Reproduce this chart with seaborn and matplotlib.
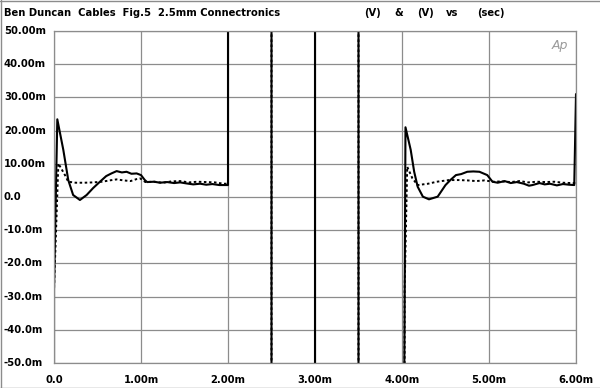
import matplotlib
matplotlib.use("Agg")
import matplotlib.pyplot as plt
import seaborn as sns
import pandas as pd
from matplotlib.lines import Line2D

# ---- data (time in ms, level in mV) ----
solid_t = [0.0, 0.0, 0.038, 0.107, 0.164, 0.22, 0.298, 0.375, 0.45, 0.528, 0.60, 0.66, 0.72,
           0.78, 0.834, 0.89, 0.95, 1.0, 1.044, 1.07, 1.15, 1.22, 1.30, 1.38, 1.45, 1.52,
           1.60, 1.68, 1.75, 1.82, 1.90, 1.98, 2.0, 2.0, 2.5, 2.5, 3.0, 3.0, 3.5, 3.5,
           4.0, 4.0, 4.04, 4.10, 4.14, 4.18, 4.24, 4.31, 4.41, 4.50, 4.56, 4.62, 4.68, 4.75,
           4.82, 4.89, 4.98, 5.04, 5.10, 5.18, 5.25, 5.32, 5.40, 5.46, 5.50, 5.58, 5.64,
           5.70, 5.78, 5.85, 5.92, 5.98, 6.0]
solid_v = [-200, -28, 23.4, 14.2, 5.1, 0.6, -0.9, 0.6, 2.7, 4.6, 6.3, 7.1, 7.8,
           7.4, 7.6, 7.0, 7.1, 6.6, 5.1, 4.5, 4.6, 4.3, 4.5, 4.2, 4.4, 4.1,
           3.8, 4.0, 3.7, 3.9, 3.6, 3.6, 3.6, 200, 200, -200, -200, 200, 200, -200,
           -200, -200, 21.0, 14.2, 7.6, 3.1, 0.1, -0.7, 0.1, 3.6, 5.2, 6.6, 6.9, 7.6,
           7.7, 7.6, 6.6, 4.6, 4.3, 4.8, 4.2, 4.5, 4.0, 3.4, 3.6, 4.2, 3.8,
           4.0, 3.5, 3.9, 3.7, 3.6, 31.0]

dot_t = [0.0, 0.0, 0.05, 0.126, 0.164, 0.25, 0.35, 0.45, 0.55, 0.64, 0.72, 0.80, 0.88,
         0.95, 0.99, 1.05, 1.15, 1.25, 1.35, 1.45, 1.55, 1.65, 1.75, 1.85, 1.95, 2.0,
         2.0, 2.5, 2.5, 3.0, 3.0, 3.5, 3.5, 4.0, 4.03, 4.03, 4.06, 4.12, 4.18, 4.30, 4.40,
         4.54, 4.65, 4.75, 4.85, 4.95, 5.05, 5.15, 5.25, 5.35, 5.45, 5.55, 5.65, 5.75,
         5.85, 5.95, 6.0]
dot_v = [-200, -28, 10.1, 6.6, 4.6, 4.3, 4.3, 4.4, 4.6, 5.0, 5.3, 5.0, 4.8,
         5.4, 5.6, 4.5, 4.6, 4.3, 4.7, 4.8, 4.4, 4.6, 4.5, 4.4, 4.0, 4.0,
         200, 200, -200, -200, 200, 200, -200, -200, -200, -28, 9.1, 5.6, 3.6, 4.0, 4.6,
         5.1, 5.1, 5.0, 4.8, 5.0, 4.6, 4.7, 4.5, 4.8, 4.4, 4.6, 4.5, 4.6,
         4.3, 4.2, 4.2]

x_ticks = [0, 1, 2, 3, 4, 5, 6]
x_labels = ["0.0", "1.00m", "2.00m", "3.00m", "4.00m", "5.00m", "6.00m"]
y_ticks = [50, 40, 30, 20, 10, 0, -10, -20, -30, -40, -50]
y_labels = ["50.00m", "40.00m", "30.00m", "20.00m", "10.00m", "0.0",
            "-10.0m", "-20.0m", "-30.0m", "-40.0m", "-50.0m"]
title_left = "Ben Duncan  Cables  Fig.5  2.5mm Connectronics"
title_parts = ["(V)", "&", "(V)", "vs", "(sec)"]
title_parts_x = [364, 394, 417, 446, 477]

sns.set_theme(style="white")
plt.rcParams["font.family"] = ["DejaVu Sans"]

fig = plt.figure(figsize=(6.0, 3.88), dpi=100)
ax = fig.add_axes([54 / 600, 25 / 388, 522 / 600, 332 / 388])

df_s = pd.DataFrame({"t": solid_t, "v": solid_v})
df_d = pd.DataFrame({"t": dot_t, "v": dot_v})

sns.lineplot(data=df_d, x="t", y="v", estimator=None, sort=False, ax=ax,
             color="black", linewidth=1.4, linestyle=(0, (1.3, 1.3)))
sns.lineplot(data=df_s, x="t", y="v", estimator=None, sort=False, ax=ax,
             color="black", linewidth=1.5)

ax.set_xlim(0, 6)
ax.set_ylim(-50, 50)
ax.set_xticks(x_ticks)
ax.set_yticks(y_ticks)
ax.set_xticklabels([])
ax.set_yticklabels([])
ax.set_xlabel("")
ax.set_ylabel("")
ax.tick_params(length=0)
ax.grid(True, color="#8c8c8c", linewidth=0.9)
ax.set_axisbelow(True)
for s in ax.spines.values():
    s.set_color("#8c8c8c")
    s.set_linewidth(0.9)

fs = 7.2
for yv, lab in zip(y_ticks, y_labels):
    yp = ax.transData.transform((0, yv))[1]
    fig.text(4 / 600, yp / fig.bbox.height, lab, ha="left", va="center",
             fontsize=fs, fontweight="bold", color="black")
for xv, lab in zip(x_ticks, x_labels):
    ax.text(xv, -0.035, lab, transform=ax.get_xaxis_transform(), ha="center",
            va="top", fontsize=fs, fontweight="bold", color="black", clip_on=False)

fig.text(4 / 600, 1 - 13 / 388, title_left, ha="left", va="center",
         fontsize=fs, fontweight="bold", color="black")
for px, part in zip(title_parts_x, title_parts):
    fig.text(px / 600, 1 - 13 / 388, part, ha="left", va="center",
             fontsize=fs, fontweight="bold", color="black")
ax.text(0.985, 0.975, "Ap", transform=ax.transAxes, ha="right", va="top",
        fontsize=9, style="italic", color="#9a9a9a", fontweight="light")

# outer frame
fr = dict(color="#8c8c8c", linewidth=1.0, transform=fig.transFigure)
fig.add_artist(Line2D([0.5 / 600, 0.5 / 600], [0, 1], **fr))
fig.add_artist(Line2D([0, 1], [1 - 0.5 / 388, 1 - 0.5 / 388], **fr))
fig.add_artist(Line2D([0, 1], [0.5 / 388, 0.5 / 388], **fr))

fig.savefig("out.png", dpi=100)
